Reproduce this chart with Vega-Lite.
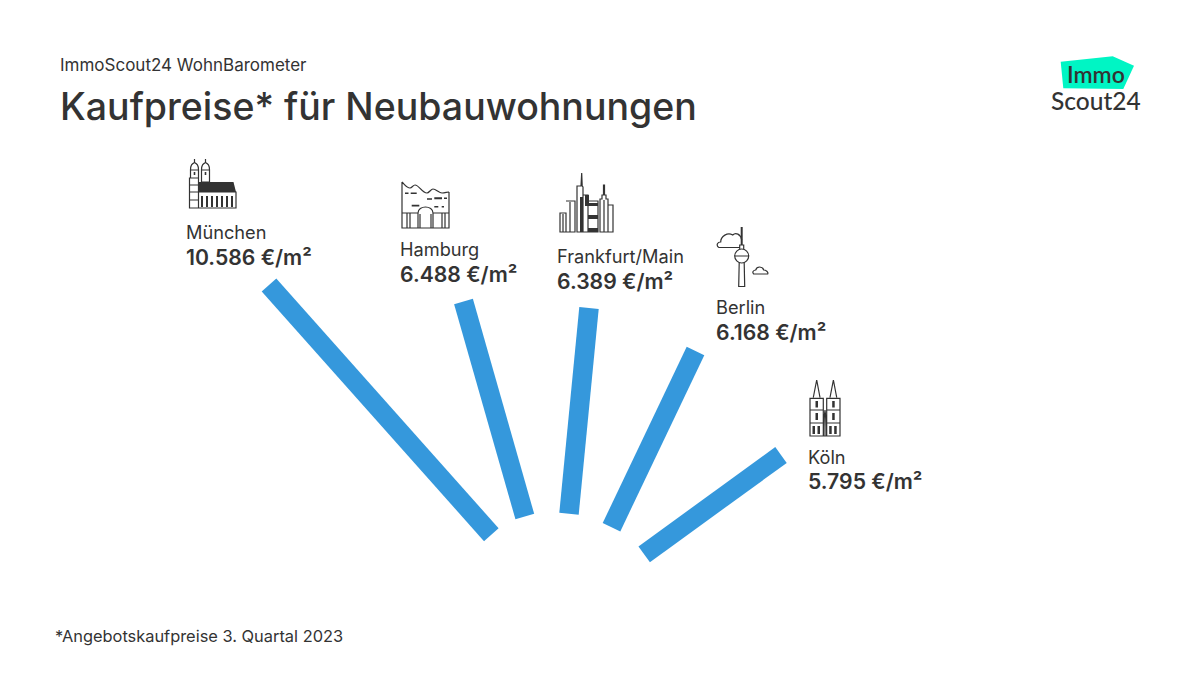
{
"$schema":"https://vega.github.io/schema/vega-lite/v6.json",
"width":1080,"height":470,
"autosize":{"type":"none"},
"padding":{"left":60,"top":135,"right":60,"bottom":70},
"background":"#ffffff",
"config":{"view":{"stroke":null},"font":"Inter"},
"title":{"text":"ImmoScout24 WohnBarometer","subtitle":"Kaufpreise* für Neubauwohnungen","anchor":"start","frame":"group","font":"Inter","fontSize":17,"fontWeight":400,"color":"#333333","subtitleFont":"Inter","subtitleFontSize":37.5,"subtitleFontWeight":500,"subtitleColor":"#333333","subtitlePadding":15,"offset":-72},
"resolve":{"scale":{"shape":"independent"}},
"datasets":{
"cities":[
{"city":"München","price":10586,"label":"10.586 €/m²","innerX":491.3,"innerY":534.7,"outerX":269,"outerY":285,"labelX":186,"labelY":239,"iconX":189,"iconY":159},
{"city":"Hamburg","price":6488,"label":"6.488 €/m²","innerX":524.8,"innerY":516.5,"outerX":463.5,"outerY":301.5,"labelX":400,"labelY":256,"iconX":402,"iconY":181},
{"city":"Frankfurt/Main","price":6389,"label":"6.389 €/m²","innerX":569,"innerY":513.7,"outerX":589,"outerY":308,"labelX":557,"labelY":263,"iconX":560,"iconY":173},
{"city":"Berlin","price":6168,"label":"6.168 €/m²","innerX":611.5,"innerY":527.2,"outerX":695.5,"outerY":351,"labelX":716,"labelY":314,"iconX":741.7,"iconY":227},
{"city":"Köln","price":5795,"label":"5.795 €/m²","innerX":644.2,"innerY":554.3,"outerX":781,"outerY":455,"labelX":808,"labelY":463.5,"iconX":809,"iconY":380}
]},
"layer":[
{"data":{"name":"cities"},
 "mark":{"type":"rule","strokeWidth":19.5,"strokeCap":"butt","color":"#3598dc"},
 "encoding":{
  "x":{"field":"innerX","type":"quantitative","scale":{"domain":[60,1140],"nice":false,"zero":false},"axis":null},
  "y":{"field":"innerY","type":"quantitative","scale":{"domain":[605,135],"nice":false,"zero":false},"axis":null},
  "x2":{"field":"outerX"},"y2":{"field":"outerY"}}},
{"data":{"name":"cities"},
 "mark":{"type":"point","filled":false,"size":4,"stroke":"#333333","strokeWidth":1.2,"opacity":1},
 "encoding":{
  "x":{"field":"iconX","type":"quantitative","axis":null},
  "y":{"field":"iconY","type":"quantitative","axis":null},
  "shape":{"field":"city","type":"nominal","legend":null,"scale":{"domain":["München","Hamburg","Frankfurt/Main","Berlin","Köln"],"range":[
   "M1.5 11 C1.5 6 3 5 5.5 3.5 C8 5 9.5 6 9.5 11 Z M5.5 3.5 V0 M1.5 11 H9.5 V19 H1.5 Z M12.5 11 C12.5 6 14 5 16.5 3.5 C19 5 20.5 6 20.5 11 Z M16.5 3.5 V0 M12.5 11 H20.5 V23 H12.5 Z M0.5 19 H9.5 V49 H0.5 Z M0.5 26 H9.5 M0.5 33 H9.5 M0.5 41 H9.5 M9.5 33 H47 V49 H9.5 Z",
   "M0 1 C3 4 5 7 8 7 C10 7 11 4 13 4 C17 4 20 12 25 12 C27 12 29 8 31 8 C34 8 37 12 40 12 C43 12 45 11 47 11 M0 1 V47 H47 V11 M0 32 H16 M31 32 H47 M16 47 V32 C16 24 31 24 31 32 V47 M5 32 V47 M8 32 V47 M18 33 V47 M29 33 V47 M40 32 V47 M43 32 V47",
   "M0 40 H6 V59 H0 Z M3 41 V59 M6 28 H15 V59 H6 M10 29 V59 M17 13 H21 L21.7 0 L22.2 13 L23 14 V59 H17 Z M23 22 H28 V59 H23 M28 28 H38 V59 H28 Z M40 59 V26 H42 V22 H43.5 V12 H44.5 V22 H46 V26 H48 V59 Z M44 27 V59 M48 32 H53 V59 H48",
   "M-7 29 A7 7 0 1 1 7 29 A7 7 0 1 1 -7 29 Z M-7 29 H7 M-2 22 V18 H2 V22 M-2.5 36 L-3 59.5 H3 L2.5 36 M-23 20.5 C-26 18 -24 15 -21 15 C-21 9 -14 5 -9 8 C-6 5 -1 7 0 13 M-23 20.5 H-2 M12 47 C10 45 12 43 14 43 C15 39 21 39 22 43 C24 43 27 45 26 47 Z",
   "M4.3 17.5 L7.7 0 L11 17.5 M1 18.3 H14.3 V56 H1 Z M1 30 H14.3 M1 43 H14.3 M21 17.5 L24.4 0 L27.7 17.5 M17.7 18.3 H31 V56 H17.7 Z M17.7 30 H31 M17.7 43 H31 M14.3 56 H17.7 M16 30 C15 36 15 44 15 56 M16 30 C17 36 17 44 17 56"
  ]}}}},
{"data":{"name":"cities"},
 "mark":{"type":"point","filled":true,"size":4,"fill":"#333333","strokeWidth":0,"opacity":1},
 "encoding":{
  "x":{"field":"iconX","type":"quantitative","axis":null},
  "y":{"field":"iconY","type":"quantitative","axis":null},
  "shape":{"field":"city","type":"nominal","legend":null,"scale":{"domain":["München","Hamburg","Frankfurt/Main","Berlin","Köln"],"range":[
   "M9.5 23 H44.5 L47 33 H9.5 Z M12 37 h2 v11 h-2 z M17 37 h2 v11 h-2 z M22 37 h2 v11 h-2 z M27 37 h2 v11 h-2 z M32 37 h2 v11 h-2 z M37 37 h2 v11 h-2 z M42 37 h2 v11 h-2 z M4.7 13 h1.6 v3 h-1.6 z M15.7 13 h1.6 v3 h-1.6 z",
   "M3 11.5 h3.5 v1.6 h-3.5 z M8.7 11.5 h6 v1.6 h-6 z M25 17.2 h5 v1.6 h-5 z M32.3 16.3 h7.7 v2 h-7.7 z M42 16.5 h3 v1.6 h-3 z M9.7 23.8 h7.6 v1.8 h-7.6 z M32.3 25 h4 v1.6 h-4 z M39.7 25 h2.3 v1.6 h-2.3 z",
   "M25 22 H29 V33 H25 Z M29 30 H38 V33 H29 Z M28 42 H38 V46 H28 Z M28 55 H38 V59 H28 Z M20 24 H23 V59 H20 Z",
   "M-1 0 H1 V18 H-1 Z",
   "M6.5 21 h2.5 v6.5 h-2.5 z M6.5 33 h2.5 v7 h-2.5 z M3.5 46 h2.5 v8 h-2.5 z M8.5 46 h2.5 v8 h-2.5 z M23.2 21 h2.5 v6.5 h-2.5 z M23.2 33 h2.5 v7 h-2.5 z M20.2 46 h2.5 v8 h-2.5 z M25.2 46 h2.5 v8 h-2.5 z"
  ]}}}},
{"data":{"name":"cities"},
 "mark":{"type":"text","align":"left","baseline":"alphabetic","font":"Inter","fontSize":18.2,"fontWeight":400,"color":"#333333"},
 "encoding":{"x":{"field":"labelX","type":"quantitative","axis":null},"y":{"field":"labelY","type":"quantitative","axis":null},"text":{"field":"city"}}},
{"data":{"name":"cities"},
 "mark":{"type":"text","align":"left","baseline":"alphabetic","dy":25.5,"font":"Inter","fontSize":21.2,"fontWeight":600,"color":"#333333"},
 "encoding":{"x":{"field":"labelX","type":"quantitative","axis":null},"y":{"field":"labelY","type":"quantitative","axis":null},"text":{"field":"label"}}},
{"data":{"values":[{"brand":"ImmoScout24","x":1060.7,"y":61.7}]},
 "mark":{"type":"point","filled":true,"size":4,"fill":"#00f5c4","strokeWidth":0,"opacity":1,"shape":"M0 0 L52 -5.4 L73.3 4 L62.6 27.3 L2.6 26.6 Z"},
 "encoding":{"x":{"field":"x","type":"quantitative","axis":null},"y":{"field":"y","type":"quantitative","axis":null}}},
{"data":{"values":[{"word":"Immo","x":1067,"y":83}]},
 "mark":{"type":"text","align":"left","baseline":"alphabetic","font":"Lato","fontSize":23,"fontWeight":600,"color":"#333333"},
 "encoding":{"x":{"field":"x","type":"quantitative","axis":null},"y":{"field":"y","type":"quantitative","axis":null},"text":{"field":"word"}}},
{"data":{"values":[{"word":"Scout24","x":1051,"y":109.5}]},
 "mark":{"type":"text","align":"left","baseline":"alphabetic","font":"Lato","fontSize":24.5,"fontWeight":500,"color":"#333333"},
 "encoding":{"x":{"field":"x","type":"quantitative","axis":null},"y":{"field":"y","type":"quantitative","axis":null},"text":{"field":"word"}}},
{"data":{"values":[{"note":"*Angebotskaufpreise 3. Quartal 2023","x":55,"y":642}]},
 "mark":{"type":"text","align":"left","baseline":"alphabetic","font":"Inter","fontSize":16.4,"fontWeight":400,"color":"#333333"},
 "encoding":{"x":{"field":"x","type":"quantitative","axis":null},"y":{"field":"y","type":"quantitative","axis":null},"text":{"field":"note"}}}
]
}
